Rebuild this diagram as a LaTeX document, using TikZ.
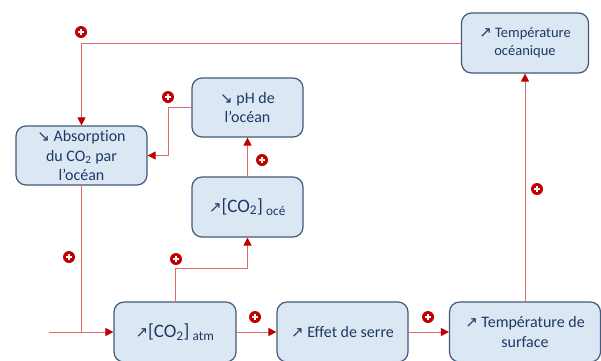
\documentclass[tikz,border=0pt]{standalone}
\usepackage{fontspec}
\setmainfont{Carlito}[Ligatures=NoCommon]
\newfontfamily\arrowfont{DejaVu Sans}
\usetikzlibrary{calc,arrows.meta}
\definecolor{boxfill}{HTML}{DCE7F4}
\definecolor{boxdraw}{HTML}{44597B}
\definecolor{boxtext}{HTML}{1F3864}
\definecolor{linkred}{HTML}{E06A6A}
\definecolor{tipred}{HTML}{C00000}
\newcommand{\upar}{{\arrowfont\fontsize{15}{15}\selectfont ↗}}
\newcommand{\downar}{{\arrowfont\fontsize{15}{15}\selectfont ↘}}
\tikzstyle{process} = [rectangle, draw=boxdraw, fill=boxfill, line width=1.2pt, rounded corners=10pt, text=boxtext, align=center, minimum height=60pt, font=\fontsize{16}{19.5}\selectfont]
\tikzstyle{connector} = [draw=linkred, line width=0.9pt, -{Triangle[length=8pt,width=8pt,color=tipred]}]
\tikzstyle{link} = [draw=linkred, line width=0.9pt]
\tikzstyle{plus} = [circle, fill=tipred, inner sep=0pt, minimum size=12pt, path picture={
    \draw[white, line width=1.6pt] ($(path picture bounding box.center)+(-3pt,0)$) -- ++(6pt,0);
    \draw[white, line width=1.6pt] ($(path picture bounding box.center)+(0,-3pt)$) -- ++(0,6pt);}]

\begin{document}
\begin{tikzpicture}[x=1pt, y=-1pt]
        \useasboundingbox (0,0) rectangle (601,360);
        \node (tempoc) [process, minimum width=127pt, font=\fontsize{14.5}{18}\selectfont] at (525,43) {\upar\ Température\\océanique};
        \node (ph) [process, minimum width=111pt, minimum height=59pt] at (247.5,107.5) {\downar\ pH de\\l’océan};
        \node (absorp) [process, minimum width=131pt, minimum height=59pt] at (81.5,155.5) {\downar\ Absorption\\du CO\textsubscript{2} par\\l’océan};
        \node (co2oce) [process, minimum width=111pt, font=\fontsize{19}{22}\selectfont] at (247.5,207) {\upar[CO\textsubscript{2}]\,\textsubscript{océ}};
        \node (co2atm) [process, minimum width=122pt, font=\fontsize{19}{22}\selectfont] at (175,332) {\upar[CO\textsubscript{2}]\,\textsubscript{atm}};
        \node (effet) [process, minimum width=131pt] at (342.5,332) {\upar\ Effet de serre};
        \node (tempsurf) [process, minimum width=151pt] at (525,332) {\upar\ Température de\\surface};
        \coordinate (source) at (49,332);
        \draw [connector] (tempoc.west) -| (absorp.north);
        \draw [connector] (ph.west) -- ++(-23,0) |- (absorp.east);
        \draw [connector] (co2oce.north) -- (ph.south);
        \draw [link] (absorp.south) -- (absorp.south |- co2atm.west);
        \draw [connector] (source) -- (co2atm.west);
        \draw [connector] (co2atm.north) -- ++(0,-33) -| (co2oce.south);
        \draw [connector] (co2atm) -- (effet);
        \draw [connector] (effet) -- (tempsurf);
        \draw [connector] (tempsurf.north) -- (tempoc.south);
        \node (plusa) [plus] at (81,32) {};
        \node (plusb) [plus] at (168,97) {};
        \node (plusc) [plus] at (262,160) {};
        \node (plusd) [plus] at (69,257) {};
        \node (pluse) [plus] at (176,259) {};
        \node (plusf) [plus] at (255,317) {};
        \node (plusg) [plus] at (428,317) {};
        \node (plush) [plus] at (537,189) {};
    \end{tikzpicture}
\end{document}
